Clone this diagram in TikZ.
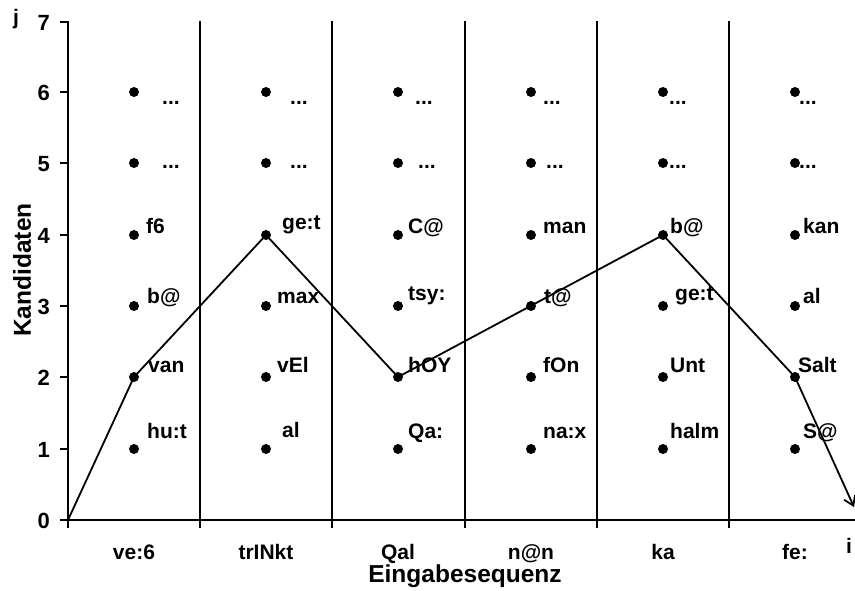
\documentclass[tikz,border=0pt]{standalone}
\usepackage{fontspec}
\setmainfont{Liberation Sans}
\usetikzlibrary{arrows.meta}
\begin{document}
\begin{tikzpicture}[x=1pt,y=-1pt,
  lbl/.style={font=\bfseries\fontsize{21}{21}\selectfont, inner sep=0pt, anchor=base west},
  tick/.style={font=\bfseries\fontsize{22}{22}\selectfont, inner sep=0pt, anchor=east},
  coll/.style={font=\bfseries\fontsize{21}{21}\selectfont, inner sep=0pt, anchor=base},
  ttl/.style={font=\bfseries\fontsize{24.5}{24.5}\selectfont, inner sep=0pt},
  dotc/.style={circle, fill=black, inner sep=0pt, minimum size=10pt},
  axis/.style={line width=2.6pt},
  sep/.style={line width=1.8pt},
  pathl/.style={line width=1.8pt}]
\useasboundingbox (0,0) rectangle (855,590);
% separators
\foreach \x in {200,332,465,597,729} \draw[sep] (\x,21) -- (\x,520);
% axes
\draw[axis] (60,22) -- (68,22) -- (68,520);
\draw[axis] (60,520) -- (855,520);
\foreach \y in {92,163,235,306,377,449} \draw[axis] (60,\y) -- (68,\y);
\foreach \x in {68,200,332,465,597,729} \draw[axis] (\x,520) -- (\x,528);
% tick labels
\foreach \v/\y in {0/521,1/450,2/378,3/307,4/236,5/164,6/93,7/23}
  \node[tick] (t\v) at (50,\y) {\v};
\node[coll, anchor=center] (jlab) at (16,19) {j};
\node[coll, anchor=center] (ilab) at (849,546) {i};
% dots
\foreach \c/\x in {1/134,2/266,3/398,4/531,5/663,6/795}
  \foreach \r/\y in {1/449,2/377,3/306,4/235,5/163,6/92}
    \node[dotc] (d\c-\r) at (\x,\y) {};
% column labels
\node[coll] (c1) at (134,559) {ve:6};
\node[coll] (c2) at (266,559) {trINkt};
\node[coll] (c3) at (398,559) {Qal};
\node[coll] (c4) at (531,559) {n@n};
\node[coll] (c5) at (663,559) {ka};
\node[coll] (c6) at (795,559) {fe:};
\node[ttl, anchor=base] (xt) at (465,582) {Eingabesequenz};
\node[ttl, rotate=90] (yt) at (22,270) {Kandidaten};
% candidate labels
% col1
\node[lbl] at (162,104) {...};
\node[lbl] at (162,168) {...};
\node[lbl] at (146,233) {f6};
\node[lbl] at (147,303) {b@};
\node[lbl] at (148,372) {van};
\node[lbl] at (147,438) {hu:t};
% col2
\node[lbl] at (290,104) {...};
\node[lbl] at (290,168) {...};
\node[lbl] at (282,229) {ge:t};
\node[lbl] at (277,303) {max};
\node[lbl] at (277,372) {vEl};
\node[lbl] at (282,437) {al};
% col3
\node[lbl] at (415,104) {...};
\node[lbl] at (418,168) {...};
\node[lbl] at (408,233) {C@};
\node[lbl] at (408,300) {tsy:};
\node[lbl] at (408,372) {hOY};
\node[lbl] at (408,438) {Qa:};
% col4
\node[lbl] at (543,104) {...};
\node[lbl] at (546,168) {...};
\node[lbl] at (543,233) {man};
\node[lbl] at (544,303) {t@};
\node[lbl] at (543,372) {fOn};
\node[lbl] at (543,438) {na:x};
% col5
\node[lbl] at (669,104) {...};
\node[lbl] at (669,168) {...};
\node[lbl] at (670,233) {b@};
\node[lbl] at (675,300) {ge:t};
\node[lbl] at (670,372) {Unt};
\node[lbl] at (670,438) {halm};
% col6
\node[lbl] at (799,104) {...};
\node[lbl] at (799,168) {...};
\node[lbl] at (803,233) {kan};
\node[lbl] at (803,303) {al};
\node[lbl] at (798,372) {Salt};
\node[lbl] at (803,438) {S@};
% path
\coordinate (start) at (68,520);
\coordinate (end) at (854,507);
\draw[pathl, -{Straight Barb[length=9pt,width=12pt]}] (start) -- (d1-2.center) -- (d2-4.center) -- (d3-2.center) -- (d5-4.center) -- (d6-2.center) -- (end);
\end{tikzpicture}
\end{document}
